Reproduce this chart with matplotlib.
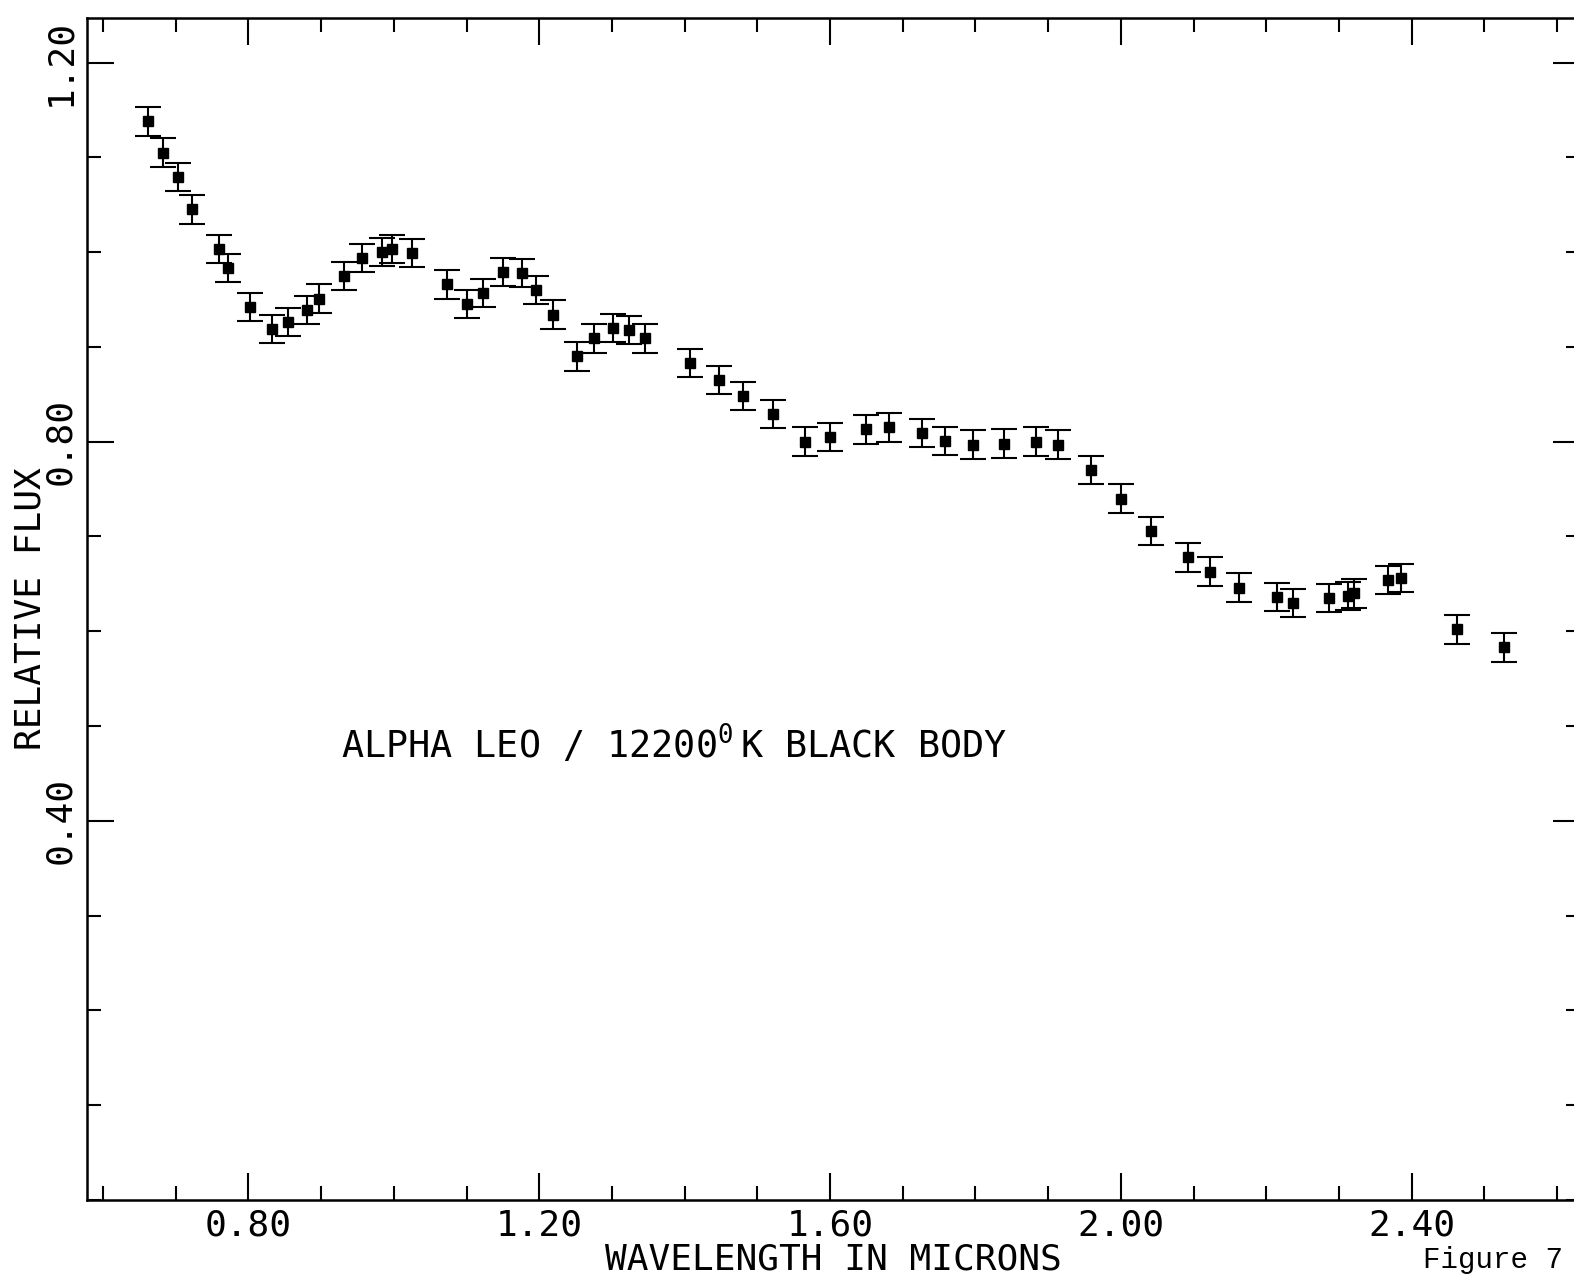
import numpy as np
import matplotlib
matplotlib.use("Agg")
import matplotlib.pyplot as plt
from matplotlib.ticker import MultipleLocator

plt.rcParams['font.family'] = ['DejaVu Sans Mono', 'DejaVu Sans']
plt.rcParams['mathtext.default'] = 'regular'

# wavelength (microns) and relative flux
wave = [0.662, 0.682, 0.703, 0.723, 0.760, 0.772, 0.802, 0.832, 0.854, 0.880,
        0.897, 0.932, 0.956, 0.984, 0.997, 1.025, 1.073, 1.100, 1.122, 1.150,
        1.176, 1.196, 1.219, 1.252, 1.276, 1.301, 1.323, 1.345, 1.407, 1.447,
        1.480, 1.522, 1.566, 1.600, 1.649, 1.681, 1.726, 1.758, 1.796, 1.839,
        1.883, 1.914, 1.959, 2.000, 2.041, 2.093, 2.123, 2.163, 2.215, 2.237,
        2.286, 2.312, 2.320, 2.368, 2.385, 2.462, 2.527]
flux = [1.138, 1.105, 1.079, 1.045, 1.003, 0.983, 0.942, 0.919, 0.926, 0.939,
        0.951, 0.975, 0.994, 1.000, 1.003, 0.999, 0.966, 0.945, 0.957, 0.979,
        0.978, 0.960, 0.934, 0.890, 0.909, 0.920, 0.918, 0.909, 0.883, 0.865,
        0.848, 0.829, 0.800, 0.805, 0.813, 0.815, 0.809, 0.801, 0.797, 0.798,
        0.800, 0.797, 0.770, 0.740, 0.706, 0.678, 0.663, 0.646, 0.636, 0.630,
        0.635, 0.637, 0.640, 0.654, 0.656, 0.602, 0.583]
err = [0.015] * len(wave)

xticks = [0.80, 1.20, 1.60, 2.00, 2.40]
xticklabels = ['0.80', '1.20', '1.60', '2.00', '2.40']
yticks = [0.40, 0.80, 1.20]
yticklabels = ['0.40', '0.80', '1.20']

fig = plt.figure(figsize=(15.74, 12.77), dpi=100)
ax = fig.add_axes([87/1574, 1 - 1200/1277, (1580 - 87)/1574, (1200 - 18)/1277])

ax.errorbar(wave, flux, yerr=err, fmt='s', color='black', markersize=6.5,
            elinewidth=1.5, capsize=9.4, capthick=1.5)

ax.set_xlim(0.578, 2.6315)
ax.set_ylim(0, 1.247)

ax.set_xticks(xticks)
ax.set_xticklabels(xticklabels, fontsize=26)
ax.set_yticks(yticks)
ax.set_yticklabels(yticklabels, fontsize=26, rotation=90, va='center')
ax.xaxis.set_minor_locator(MultipleLocator(0.1))
ax.yaxis.set_minor_locator(MultipleLocator(0.1))
ax.tick_params(which='both', direction='in', top=True, right=True, width=1.5)
ax.tick_params(which='major', length=19.5)
ax.tick_params(which='minor', length=10)
ax.tick_params(axis='x', which='major', pad=6)
ax.tick_params(axis='y', which='major', pad=7)
for s in ax.spines.values():
    s.set_linewidth(1.8)

ax.set_xlabel('WAVELENGTH IN MICRONS', fontsize=26, labelpad=0)
ax.set_ylabel('RELATIVE FLUX', fontsize=26, va='center')
ax.yaxis.set_label_coords(-0.038, 0.5)

ax.text(0.80 + (341 - 248.5)/727, 0.48, 'ALPHA LEO / 12200$^{0}\\,$K BLACK BODY',
        fontsize=26.5, va='center', ha='left')

fig.text(1423/1574, 1 - 1268/1277, 'Figure 7', fontsize=21,
         family='Liberation Mono', va='baseline', ha='left')

fig.savefig('out.png', dpi=100)
